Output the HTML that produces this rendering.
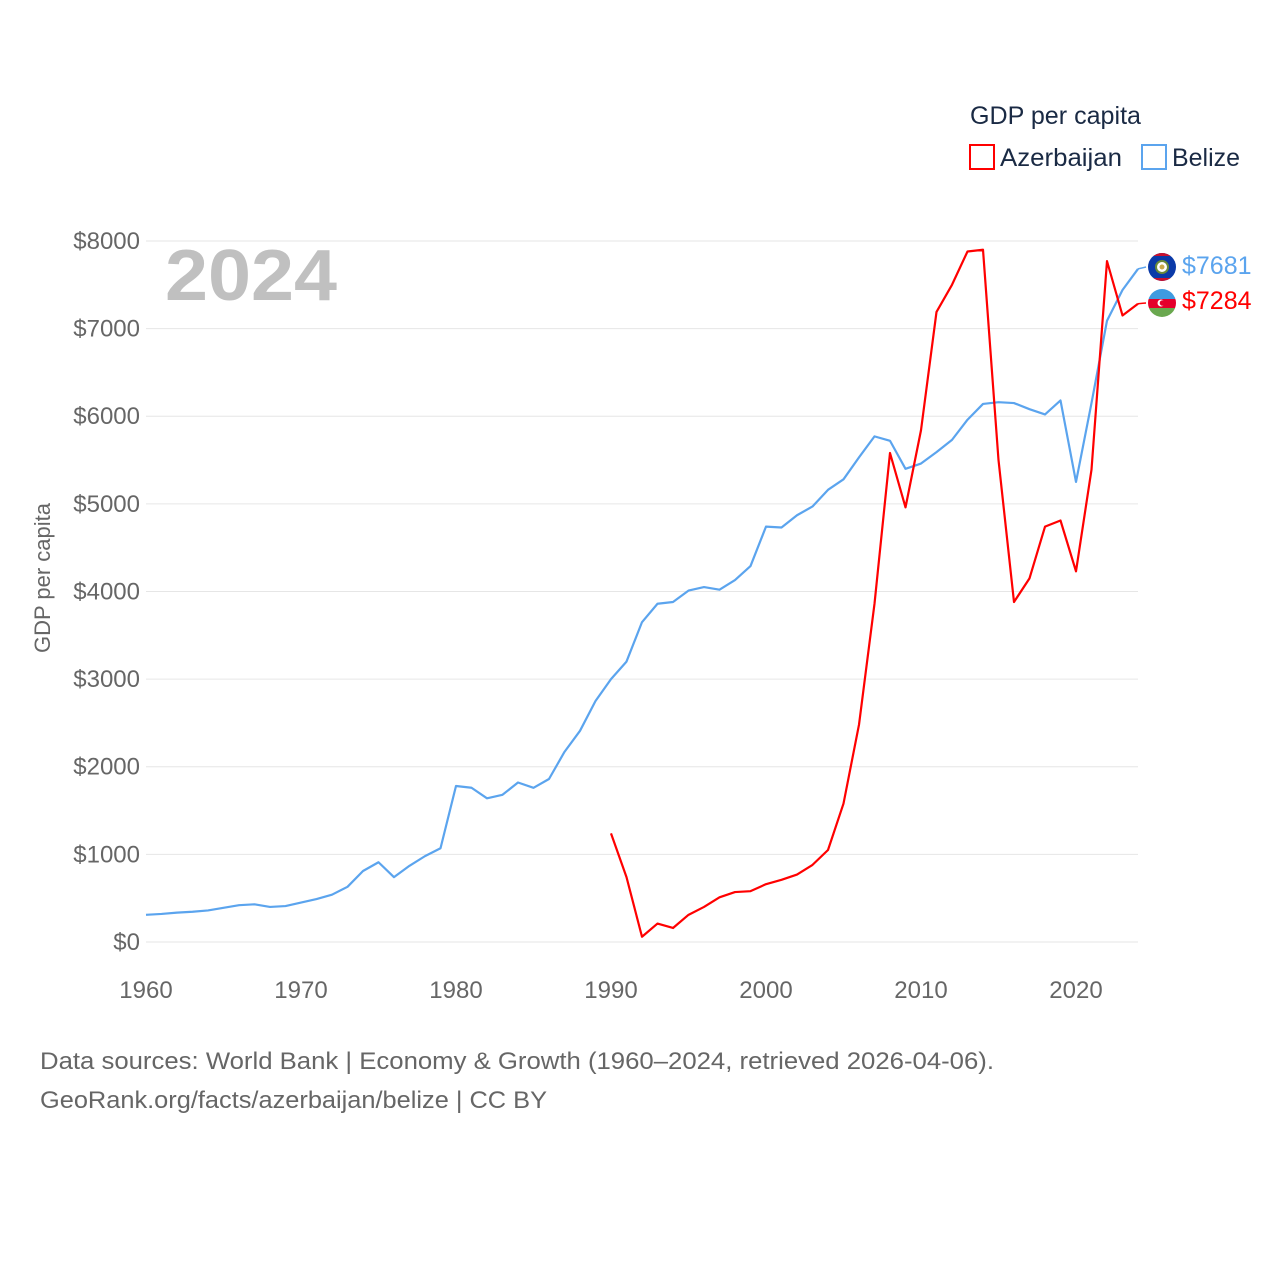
<!DOCTYPE html>
<html><head><meta charset="utf-8"><style>
body{margin:0;background:#fff;font-family:"Liberation Sans",sans-serif;}
</style></head><body>
<svg id="chart" width="1280" height="1280" xmlns="http://www.w3.org/2000/svg">
<g id="grid"></g>
<g id="yticks"></g>
<g id="xticks"></g>
<text x="165" y="300" font-size="72" font-weight="bold" fill="#c0c0c0" textLength="172" lengthAdjust="spacingAndGlyphs">2024</text>
<text x="50" y="578" font-size="22" fill="#666" transform="rotate(-90 50 578)" text-anchor="middle">GDP per capita</text>
<g id="series"></g>
<g>
<text x="970" y="124" font-size="25" fill="#1a2a44" textLength="171" lengthAdjust="spacingAndGlyphs">GDP per capita</text>
<rect x="970" y="145" width="24" height="24" fill="none" stroke="#ff0000" stroke-width="2"/>
<text x="1000" y="166" font-size="25" fill="#1a2a44" textLength="122" lengthAdjust="spacingAndGlyphs">Azerbaijan</text>
<rect x="1142" y="145" width="24" height="24" fill="none" stroke="#5ba4ee" stroke-width="2"/>
<text x="1172" y="166" font-size="25" fill="#1a2a44" textLength="68" lengthAdjust="spacingAndGlyphs">Belize</text>
</g>
<g>
<clipPath id="cpb"><circle cx="1162" cy="267" r="14"/></clipPath>
<g clip-path="url(#cpb)"><rect x="1148" y="253" width="28" height="28" fill="#0b3aa8"/><rect x="1148" y="253" width="28" height="3" fill="#c8102e"/><rect x="1148" y="278" width="28" height="3" fill="#c8102e"/></g>
<circle cx="1162" cy="267" r="6" fill="#fff" stroke="#6a8a3a" stroke-width="2"/><circle cx="1162" cy="267" r="2.5" fill="#c9a94a"/>
</g>
<g>
<clipPath id="cp"><circle cx="1162" cy="303" r="14"/></clipPath>
<g clip-path="url(#cp)"><rect x="1148" y="289" width="28" height="10" fill="#3f9be0"/><rect x="1148" y="299" width="28" height="9" fill="#e4002b"/><rect x="1148" y="308" width="28" height="10" fill="#6aa84f"/></g>
<circle cx="1161" cy="303" r="3.5" fill="#fff"/><circle cx="1162.5" cy="303" r="2.8" fill="#e4002b"/>
</g>
<text x="1182" y="274" font-size="25" fill="#5ba4ee">$7681</text>
<text x="1182" y="309" font-size="25" fill="#ff0000">$7284</text>
<text x="40" y="1069" font-size="24" fill="#666" textLength="954" lengthAdjust="spacingAndGlyphs">Data sources: World Bank | Economy &amp; Growth (1960–2024, retrieved 2026-04-06).</text>
<text x="40" y="1108" font-size="24" fill="#666" textLength="507" lengthAdjust="spacingAndGlyphs">GeoRank.org/facts/azerbaijan/belize | CC BY</text>
</svg>
<script>
const belizeYears=[1960,1961,1962,1963,1964,1965,1966,1967,1968,1969,1970,1971,1972,1973,1974,1975,1976,1977,1978,1979,1980,1981,1982,1983,1984,1985,1986,1987,1988,1989,1990,1991,1992,1993,1994,1995,1996,1997,1998,1999,2000,2001,2002,2003,2004,2005,2006,2007,2008,2009,2010,2011,2012,2013,2014,2015,2016,2017,2018,2019,2020,2021,2022,2023,2024];
const belizeValues=[310,320,335,345,360,390,420,430,400,410,450,490,540,630,810,910,740,870,980,1070,1780,1760,1640,1680,1820,1760,1860,2170,2410,2750,3000,3200,3650,3860,3880,4010,4050,4020,4130,4290,4740,4730,4870,4970,5160,5280,5530,5770,5720,5400,5460,5590,5730,5960,6140,6160,6150,6080,6020,6180,5250,6150,7090,7440,7681];
const azYears=[1990,1991,1992,1993,1994,1995,1996,1997,1998,1999,2000,2001,2002,2003,2004,2005,2006,2007,2008,2009,2010,2011,2012,2013,2014,2015,2016,2017,2018,2019,2020,2021,2022,2023,2024];
const azValues=[1240,740,60,210,160,310,400,510,570,580,660,710,770,880,1050,1580,2480,3860,5580,4960,5840,7190,7500,7880,7900,5500,3880,4150,4740,4810,4230,5390,7770,7150,7284];
const yTicks=[0,1000,2000,3000,4000,5000,6000,7000,8000];
const xTicks=[1960,1970,1980,1990,2000,2010,2020];
const NS="http://www.w3.org/2000/svg";
const x=yr=>146+(yr-1960)*15.5;
const y=v=>942-v*0.08763;
function mk(t,a,p){const e=document.createElementNS(NS,t);for(const k in a)e.setAttribute(k,a[k]);p.appendChild(e);return e;}
const grid=document.getElementById('grid'),yt=document.getElementById('yticks'),xt=document.getElementById('xticks'),ser=document.getElementById('series');
yTicks.forEach(v=>{
 const l=mk('line',{x1:146,x2:1138,y1:y(v),y2:y(v),stroke:'#e6e6e6','stroke-width':1},grid);
 
 
 const t=mk('text',{x:140,y:y(v)+8,'font-size':24,fill:'#666','text-anchor':'end'},yt);
 t.textContent='$'+v;
 
 
});
xTicks.forEach(v=>{
 const t=mk('text',{x:x(v),y:998,'font-size':24,fill:'#666','text-anchor':'middle'},xt);
 t.textContent=v;
 
 
});
function line(ys,vs,col,name){
 const d=ys.map((yr,i)=>(i?'L':'M')+x(yr)+' '+y(vs[i])).join(' ');
 const p=mk('path',{d:d,fill:'none',stroke:col,'stroke-width':2.2,'stroke-linejoin':'round'},ser);
 
 
}
line(belizeYears,belizeValues,'#5ba4ee','line-belize');
line(azYears,azValues,'#ff0000','line-azerbaijan');
const c1=mk('path',{d:'M'+x(2024)+' '+y(belizeValues[belizeValues.length-1])+' L1146 267',fill:'none',stroke:'#5ba4ee','stroke-width':1.5},ser);


const c2=mk('path',{d:'M'+x(2024)+' '+y(azValues[azValues.length-1])+' L1146 303',fill:'none',stroke:'#ff0000','stroke-width':1.5},ser);


</script>
</body></html>
